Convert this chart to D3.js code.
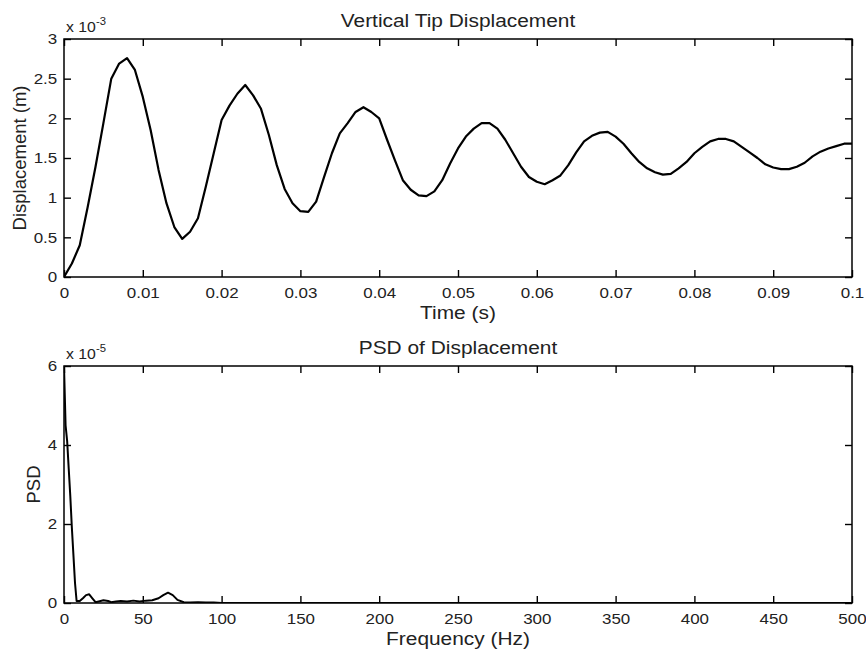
<!DOCTYPE html>
<html>
<head>
<meta charset="utf-8">
<script src="https://cdn.jsdelivr.net/npm/d3@7"></script>
<style>
  html, body { margin: 0; padding: 0; background: #fff; }
  svg { display: block; }
  text { font-family: "Liberation Sans", Arial, sans-serif; fill: #222; }
</style>
</head>
<body>
<svg id="chart" width="866" height="652"></svg>
<script>
// ---------- Data ----------
const timeStep = 0.001; // s, sampling interval of the displacement record
// Vertical tip displacement, units of 1e-3 m, sampled every 0.001 s from 0 to 0.1 s
const displacement = [
  0, 0.17, 0.40, 0.88, 1.39, 1.94, 2.50, 2.69, 2.76, 2.61,
  2.27, 1.85, 1.35, 0.93, 0.63, 0.48, 0.57, 0.74, 1.14, 1.56,
  1.98, 2.16, 2.31, 2.42, 2.29, 2.12, 1.79, 1.41, 1.11, 0.93,
  0.83, 0.82, 0.95, 1.26, 1.56, 1.81, 1.94, 2.08, 2.14, 2.08,
  2.00, 1.73, 1.47, 1.22, 1.10, 1.03, 1.02, 1.08, 1.22, 1.43,
  1.62, 1.77, 1.87, 1.94, 1.94, 1.87, 1.73, 1.56, 1.39, 1.26,
  1.20, 1.17, 1.22, 1.28, 1.41, 1.57, 1.71, 1.78, 1.82, 1.83,
  1.77, 1.68, 1.56, 1.45, 1.37, 1.32, 1.29, 1.30, 1.37, 1.45,
  1.56, 1.64, 1.71, 1.74, 1.74, 1.71, 1.64, 1.57, 1.50, 1.42,
  1.38, 1.36, 1.36, 1.39, 1.44, 1.52, 1.58, 1.62, 1.65, 1.68,
  1.68
];
// PSD of displacement, units of 1e-5
const psdFreq = [0, 1, 2, 3, 4, 5, 6, 7, 8, 10, 12, 14, 16, 18, 20, 22, 25, 28, 30, 33, 36, 40, 44, 48, 52, 56, 60, 63, 66, 69, 72, 76, 80, 85, 90, 95, 100, 500];
const psdValue = [6.0, 4.5, 4.1, 3.4, 2.7, 1.9, 1.2, 0.5, 0.05, 0.05, 0.12, 0.2, 0.22, 0.12, 0.02, 0.04, 0.07, 0.05, 0.02, 0.04, 0.05, 0.04, 0.06, 0.04, 0.06, 0.07, 0.12, 0.2, 0.26, 0.2, 0.08, 0.02, 0.01, 0.02, 0.01, 0.01, 0.0, 0.0];

// Ticks
const topXTicks = [0, 0.01, 0.02, 0.03, 0.04, 0.05, 0.06, 0.07, 0.08, 0.09, 0.1];
const topXTickLabels = ["0", "0.01", "0.02", "0.03", "0.04", "0.05", "0.06", "0.07", "0.08", "0.09", "0.1"];
const topYTicks = [0, 0.5, 1, 1.5, 2, 2.5, 3];
const topYTickLabels = ["0", "0.5", "1", "1.5", "2", "2.5", "3"];
const botXTicks = [0, 50, 100, 150, 200, 250, 300, 350, 400, 450, 500];
const botXTickLabels = ["0", "50", "100", "150", "200", "250", "300", "350", "400", "450", "500"];
const botYTicks = [0, 2, 4, 6];
const botYTickLabels = ["0", "2", "4", "6"];

// Texts
const topTitle = "Vertical Tip Displacement";
const topXLabel = "Time (s)";
const topYLabel = "Displacement (m)";
const topExponent = "-3";
const botTitle = "PSD of Displacement";
const botXLabel = "Frequency (Hz)";
const botYLabel = "PSD";
const botExponent = "-5";

// ---------- Drawing ----------
const svg = d3.select("#chart");
svg.append("rect").attr("width", 866).attr("height", 652).attr("fill", "#fff");
const SX = 1.13; // horizontal stretch of text seen in the reference
const tickLen = 7;

function panel(cfg) {
  const { left, right, top, bottom } = cfg;
  const x = d3.scaleLinear().domain(cfg.xDomain).range([left, right]);
  const y = d3.scaleLinear().domain(cfg.yDomain).range([bottom, top]);
  const g = svg.append("g");

  const clipId = "clip" + cfg.id;
  svg.append("clipPath").attr("id", clipId)
    .append("rect").attr("x", left).attr("y", top - 2).attr("width", right - left).attr("height", bottom - top + 2);

  // bottom axis with labels
  const ax = g.append("g").attr("transform", `translate(0,${bottom})`)
    .call(d3.axisBottom(x).tickValues(cfg.xTicks).tickFormat((d, i) => cfg.xTickLabels[i])
      .tickSizeInner(-tickLen).tickSizeOuter(0).tickPadding(10));
  ax.select(".domain").remove();
  ax.selectAll("text").attr("font-size", 15).attr("transform", `scale(${SX},1)`);

  // top axis (ticks only)
  const at = g.append("g").attr("transform", `translate(0,${top})`)
    .call(d3.axisTop(x).tickValues(cfg.xTicks).tickFormat("").tickSizeInner(-tickLen).tickSizeOuter(0));
  at.select(".domain").remove();

  // left axis with labels
  const al = g.append("g").attr("transform", `translate(${left},0)`)
    .call(d3.axisLeft(y).tickValues(cfg.yTicks).tickFormat((d, i) => cfg.yTickLabels[i])
      .tickSizeInner(-tickLen).tickSizeOuter(0).tickPadding(6));
  al.select(".domain").remove();
  al.selectAll("text").attr("font-size", 15).attr("transform", `scale(${SX},1)`);

  // right axis (ticks only)
  const ar = g.append("g").attr("transform", `translate(${right},0)`)
    .call(d3.axisRight(y).tickValues(cfg.yTicks).tickFormat("").tickSizeInner(-tickLen).tickSizeOuter(0));
  ar.select(".domain").remove();

  g.selectAll(".tick line").attr("stroke", "#000").attr("stroke-width", 1.4);

  // box
  g.append("rect").attr("x", left).attr("y", top).attr("width", right - left).attr("height", bottom - top)
    .attr("fill", "none").attr("stroke", "#000").attr("stroke-width", 1.5);

  // line
  const line = d3.line().x(d => x(d[0])).y(d => y(d[1]));
  g.append("path").datum(cfg.points).attr("d", line)
    .attr("clip-path", `url(#${clipId})`)
    .attr("fill", "none").attr("stroke", "#000").attr("stroke-width", cfg.lineWidth)
    .attr("stroke-linejoin", "round");

  // texts
  const cx = (left + right) / 2;
  function stretched(txt, xx, yy, size, anchor) {
    return g.append("text").attr("transform", `translate(${xx},${yy}) scale(${SX},1)`)
      .attr("text-anchor", anchor || "middle").attr("font-size", size).text(txt);
  }
  stretched(cfg.title, cx, top - 12, 18.5);
  stretched(cfg.xLabel, cx, bottom + 42, 18.5);
  g.append("text").attr("transform", `translate(${cfg.yLabelX},${(top + bottom) / 2}) rotate(-90)`)
    .attr("text-anchor", "middle").attr("font-size", 18.5).text(cfg.yLabel);

  // exponent label "x 10^n"
  const ex = g.append("text").attr("transform", `translate(${left + 2},${top - 7}) scale(${SX},1)`)
    .attr("font-size", 14);
  ex.append("tspan").text("x 10");
  ex.append("tspan").attr("font-size", 10).attr("dy", -7).text(cfg.exponent);
}

panel({
  id: "top", left: 64, right: 852, top: 39, bottom: 277,
  xDomain: [0, 0.1], yDomain: [0, 3],
  xTicks: topXTicks, xTickLabels: topXTickLabels,
  yTicks: topYTicks, yTickLabels: topYTickLabels,
  points: displacement.map((v, i) => [i * timeStep, v]),
  lineWidth: 2.2,
  title: topTitle, xLabel: topXLabel, yLabel: topYLabel, yLabelX: 26,
  exponent: topExponent
});

panel({
  id: "bot", left: 64, right: 852, top: 366, bottom: 603,
  xDomain: [0, 500], yDomain: [0, 6],
  xTicks: botXTicks, xTickLabels: botXTickLabels,
  yTicks: botYTicks, yTickLabels: botYTickLabels,
  points: psdFreq.map((f, i) => [f, psdValue[i]]),
  lineWidth: 2,
  title: botTitle, xLabel: botXLabel, yLabel: botYLabel, yLabelX: 40,
  exponent: botExponent
});
</script>
</body>
</html>
